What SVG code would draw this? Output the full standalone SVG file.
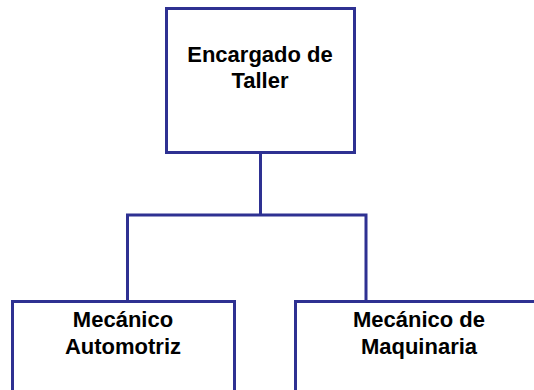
<svg xmlns="http://www.w3.org/2000/svg" width="534" height="390" viewBox="0 0 534 390">
<style>
.box{fill:#fff;stroke:#2E3192;stroke-width:3}
.conn{fill:none;stroke:#2E3192;stroke-width:3}
.lbl{font-family:"Liberation Sans",Arial,sans-serif;font-weight:bold;font-size:22px;fill:#000;text-anchor:middle}
</style>
<rect width="534" height="390" fill="#fff"/>
<g id="connectors">
<path class="conn" d="M260.5 153 V215 M127.5 301 V215 H366 V301"/>
</g>
<g id="encargado">
<rect class="box" x="166.5" y="8.5" width="188" height="144"/>
<text class="lbl" x="260" y="62">Encargado de</text>
<text class="lbl" x="260" y="88">Taller</text>
</g>
<g id="automotriz">
<rect class="box" x="12.5" y="301.5" width="222" height="100"/>
<text class="lbl" x="123" y="327">Mecánico</text>
<text class="lbl" x="123" y="354">Automotriz</text>
</g>
<g id="maquinaria">
<rect class="box" x="295.5" y="301.5" width="248" height="100"/>
<text class="lbl" x="419" y="327">Mecánico de</text>
<text class="lbl" x="419" y="354">Maquinaria</text>
</g>
</svg>
